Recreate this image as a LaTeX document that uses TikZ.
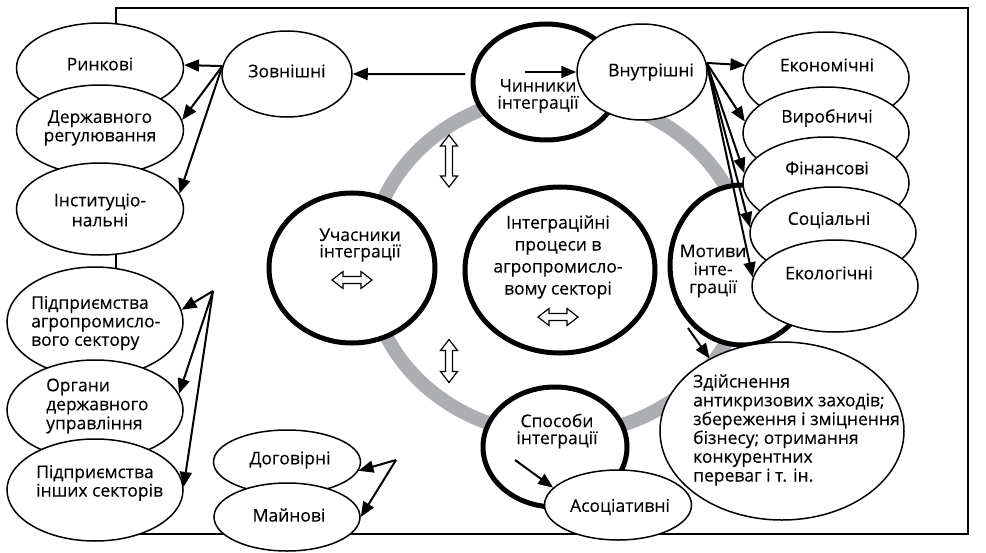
\documentclass[tikz,border=0pt]{standalone}
\usepackage{fontspec}
\setmainfont{Open Sans}[FakeBold=0.25]
\usetikzlibrary{arrows.meta,shapes.geometric}
\definecolor{ringgray}{RGB}{172,174,177}
\tikzset{
  shp/.style={ellipse, draw, fill=white, inner sep=0pt},
  ellthin/.style={shp, line width=1.5pt},
  ellthick/.style={shp, line width=5pt},
  txt/.style={inner sep=0pt, align=center, font=\fontsize{17.5}{18.5}\selectfont},
  ltxt/.style={txt, align=left, anchor=west},
  arr/.style={line width=2pt, -{Triangle[length=15pt,width=12pt]}},
  dblstyle/.style={line width=1.2pt, fill=white, line join=miter},
  pics/dbl/.style={code={
    \draw[dblstyle] (-#1,0) -- (-#1+11,8.5) -- (-#1+11,3.5) -- (#1-11,3.5) -- (#1-11,8.5) -- (#1,0)
      -- (#1-11,-8.5) -- (#1-11,-3.5) -- (-#1+11,-3.5) -- (-#1+11,-8.5) -- cycle;}}
}
\begin{document}
\begin{tikzpicture}[x=1pt,y=-1pt]
\useasboundingbox (0,0) rectangle (986,552);
% frame
\draw[line width=1.3pt] (116,8) rectangle (968,534);
% ring
\draw[line width=14pt, ringgray] (558,265) ellipse [x radius=189, y radius=170];
% thick circles
\node[ellthick, minimum width=146pt, minimum height=116pt] (chyn) at (546,82) {};
\node[ellthick, minimum width=166pt, minimum height=150pt] (uch) at (352,268) {};
\node[ellthick, minimum width=190pt, minimum height=166pt] (centr) at (560,270) {};
\node[ellthick, minimum width=144pt, minimum height=160pt] (motiv) at (742,265) {};
\node[ellthick, minimum width=144pt, minimum height=120pt] (spos) at (555,447) {};
% thin ellipses
\node[ellthin, minimum width=130pt, minimum height=86pt] (zovn) at (287,74) {};
\node[ellthin, minimum width=130pt, minimum height=96pt] (vnut) at (642,72) {};
\node[ellthin, minimum width=166pt, minimum height=92pt] (ekon) at (826,78) {};
\node[ellthin, minimum width=166pt, minimum height=92pt] (vyrob) at (826,133) {};
\node[ellthin, minimum width=166pt, minimum height=92pt] (fin) at (826,183) {};
\node[ellthin, minimum width=166pt, minimum height=92pt] (soc) at (833,233) {};
\node[ellthin, minimum width=166pt, minimum height=92pt] (ekol) at (835,286) {};
\node[ellthin, minimum width=244pt, minimum height=178pt] (zdij) at (782,431) {};
\node[ellthin, minimum width=147pt, minimum height=70pt] (asoc) at (618,505) {};
\node[ellthin, minimum width=167pt, minimum height=90pt] (rynk) at (100,68) {};
\node[ellthin, minimum width=167pt, minimum height=90pt] (derzh) at (100,130) {};
\node[ellthin, minimum width=167pt, minimum height=92pt] (inst) at (100,209) {};
\node[ellthin, minimum width=176pt, minimum height=110pt] (pagro) at (95,322) {};
\node[ellthin, minimum width=176pt, minimum height=100pt] (organ) at (95,410) {};
\node[ellthin, minimum width=176pt, minimum height=102pt] (pinsh) at (95,490) {};
\node[ellthin, minimum width=147pt, minimum height=64pt] (dogov) at (287,462) {};
\node[ellthin, minimum width=146pt, minimum height=68pt] (mayn) at (287,517) {};
% texts
\node[txt] (t-rynk) at (100,64) {Ринкові};
\node[txt] (t-derzh) at (100,128) {Державного\\регулювання};
\node[txt, font=\fontsize{17.5}{20}\selectfont] (t-inst) at (100,210) {Інституціо-\\нальні};
\node[ltxt] (t-pagro) at (31,323) {Підприємства\\агропромисло-\\вого сектору};
\node[ltxt, font=\fontsize{17.5}{19}\selectfont] (t-organ) at (46,406) {Органи\\державного\\управління};
\node[ltxt] (t-pinsh) at (36,483) {Підприємства\\інших секторів};
\node[txt] (t-dogov) at (290,460) {Договірні};
\node[txt] (t-mayn) at (289,515) {Майнові};
\node[txt] (t-zovn) at (287,71) {Зовнішні};
\node[txt, font=\fontsize{17.5}{17}\selectfont] (t-chyn) at (538,96) {Чинники\\інтеграції};
\node[txt] (t-vnut) at (651,72) {Внутрішні};
\node[txt] (t-ekon) at (827,65) {Економічні};
\node[txt] (t-vyrob) at (827,118) {Виробничі};
\node[txt] (t-fin) at (827,168) {Фінансові};
\node[txt] (t-soc) at (829,220) {Соціальні};
\node[txt] (t-ekol) at (829,273) {Екологічні};
\node[txt, font=\fontsize{17.5}{16.5}\selectfont] (t-uch) at (360,245) {Учасники\\інтеграції};
\node[txt, font=\fontsize{17.5}{22}\selectfont] (t-centr) at (558,257) {Інтеграційні\\процеси в\\агропромисло-\\вому секторі};
\node[txt, font=\fontsize{17.5}{18}\selectfont] (t-motiv) at (713,271) {Мотиви\\інте-\\грації};
\node[txt, font=\fontsize{17.5}{17}\selectfont] (t-spos) at (557,431) {Способи\\інтеграції};
\node[txt] (t-asoc) at (620,507) {Асоціативні};
\node[ltxt, font=\fontsize{17.5}{18.8}\selectfont] (t-zdij) at (693,430) {Здійснення\\антикризових заходів;\\збереження і зміцнення\\бізнесу; отримання\\конкурентних\\переваг і т. ін.};
% double arrows
\pic at (352,280) {dbl=20};
\pic at (558,317) {dbl=20};
\pic[rotate=90] at (449,161) {dbl=26};
\pic[rotate=90] at (449,361) {dbl=21.5};
% free coordinates
\coordinate (cin) at (525,72);
\coordinate (mstart) at (688,328);
\coordinate (sstart) at (515,460);
\coordinate (src2) at (213,291);
\coordinate (src3) at (396,460);
% arrows
\draw[arr, shorten <=6pt] (chyn.174) -- (zovn.east);
\draw[arr] (cin) -- (vnut.west);
\draw[arr] (zovn.173) -- (rynk.2);
\draw[arr] (zovn.173) -- (derzh.7);
\draw[arr] (zovn.173) -- (inst.11);
\draw[arr] (vnut.8) -- (ekon.171);
\draw[arr] (vnut.8) -- (vyrob.172);
\draw[arr] (vnut.8) -- (fin.173);
\draw[arr] (vnut.8) -- (soc.176);
\draw[arr] (vnut.8) -- (ekol.174);
\draw[arr] (mstart) -- (zdij.135);
\draw[arr] (sstart) -- (asoc.165);
\draw[arr] (src2) -- (pagro.8);
\draw[arr] (src2) -- (organ.11);
\draw[arr] (src2) -- (pinsh.2);
\draw[arr] (src3) -- (dogov.353);
\draw[arr] (src3) -- (mayn.east);
\end{tikzpicture}
\end{document}
